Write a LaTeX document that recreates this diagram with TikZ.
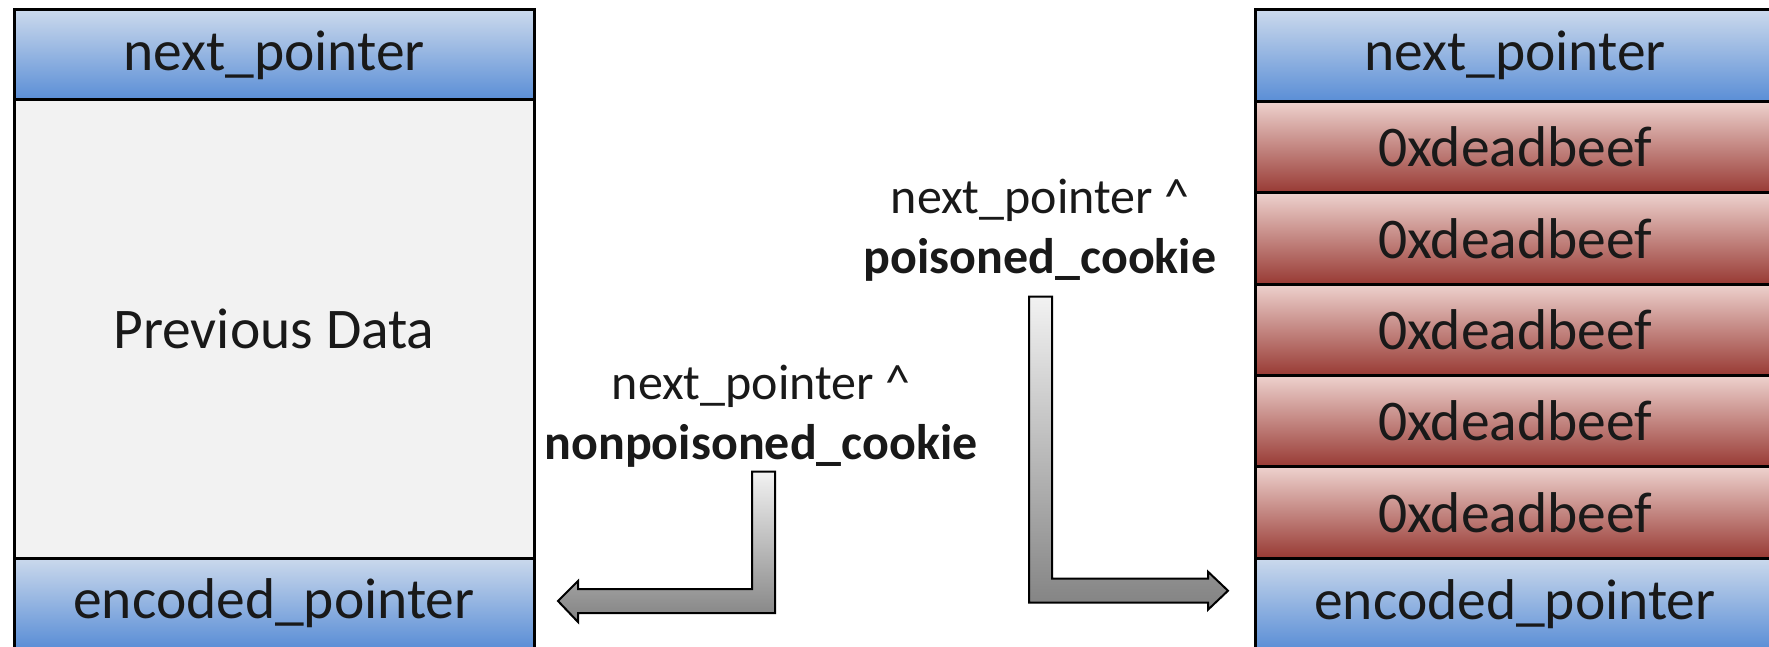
\documentclass[tikz,border=0pt]{standalone}
\usepackage{fontspec}
\setmainfont{Carlito}
\usepackage{xcolor}
\usetikzlibrary{positioning,calc}
\definecolor{bluetop}{RGB}{203,217,236}
\definecolor{bluebot}{RGB}{90,142,214}
\definecolor{redtop}{RGB}{238,210,206}
\definecolor{redbot}{RGB}{152,58,52}
\definecolor{datagray}{RGB}{242,242,242}
\definecolor{arrowtop}{RGB}{242,242,242}
\definecolor{arrowbot}{RGB}{130,130,130}

\begin{document}
\begin{tikzpicture}[x=0.5pt, y=-0.5pt, node distance=0pt,
  cell/.style={rectangle, draw=black, line width=1.5pt, outer sep=0pt, inner sep=0pt,
    minimum width=260pt, font=\fontsize{28.75}{34}\selectfont, text=black!90},
  ptr/.style={cell, top color=bluetop, bottom color=bluebot},
  beef/.style={cell, minimum height=45.67pt, top color=redtop, bottom color=redbot},
  lbl/.style={align=center, inner sep=0pt, font=\fontsize{25}{30}\selectfont, text=black!90},
  bent/.style={draw=black, line width=1pt, top color=arrowtop, bottom color=arrowbot}]
\useasboundingbox (0,0) rectangle (1769,647);
\clip (0,0) rectangle (1769,647);

\node[ptr, minimum height=45pt] (lnext) at (274,55) {next\_pointer};
\node[cell, fill=datagray, minimum height=229pt, below=of lnext] (ldata) {Previous Data};
\node[ptr, minimum height=45pt, below=of ldata] (lenc) {encoded\_pointer};

\node[ptr, minimum height=45.67pt] (rnext) at (1515,55.67) {next\_pointer};
\node[beef, below=of rnext] (rbeef1) {0xdeadbeef};
\node[beef, below=of rbeef1] (rbeef2) {0xdeadbeef};
\node[beef, below=of rbeef2] (rbeef3) {0xdeadbeef};
\node[beef, below=of rbeef3] (rbeef4) {0xdeadbeef};
\node[beef, below=of rbeef4] (rbeef5) {0xdeadbeef};
\node[ptr, minimum height=45.67pt, below=of rbeef5] (renc) {encoded\_pointer};

\node[lbl] (nplab) at (761,416) {next\_pointer \textasciicircum\\\textbf{nonpoisoned\_cookie}};
\node[lbl] (plab) at (1040,230) {next\_pointer \textasciicircum\\\textbf{poisoned\_cookie}};

\path[bent] ($(nplab.south)+(-9,4)$) -- ($(nplab.south)+(14,4)$) |- ($(lenc.east)+(44,10)$)
  -- ++(0,9) -- ($(lenc.east)+(24,-2)$) -- ++(20,-20) -- ++(0,8) -| ($(nplab.south)+(-9,4)$) -- cycle;
\path[bent] ($(plab.south)+(-11,15)$) -- ($(plab.south)+(12,15)$) |- ($(renc.west)+(-47,-25)$)
  -- ++(0,-7) -- ($(renc.west)+(-27,-13)$) -- ++(-20,19) -- ++(0,-7) -| ($(plab.south)+(-11,15)$) -- cycle;
\end{tikzpicture}
\end{document}
